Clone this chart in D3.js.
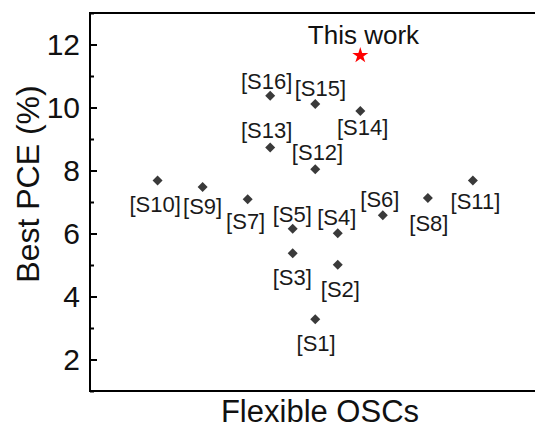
<!DOCTYPE html>
<html><head><meta charset="utf-8">
<script src="https://cdn.jsdelivr.net/npm/d3@7"></script>
<style>body{margin:0;background:#fff}svg{display:block}text{font-family:Arial,"Liberation Sans",sans-serif}</style>
</head><body>
<svg id="c" width="535" height="427"></svg>
<script>
const labels = ["[S1]","[S2]","[S3]","[S4]","[S5]","[S6]","[S7]","[S8]","[S9]","[S10]","[S11]","[S12]","[S13]","[S14]","[S15]","[S16]"];
const xPos = [8, 9, 7, 9, 7, 11, 5, 13, 3, 1, 15, 8, 6, 10, 8, 6];
const pce = [3.28, 5.01, 5.37, 6.01, 6.15, 6.58, 7.09, 7.13, 7.48, 7.68, 7.68, 8.04, 8.73, 9.89, 10.11, 10.37];
const thisWorkLabel = "This work";
const thisWorkX = 10;
const thisWorkPCE = 11.65;
const yTicks = [2, 4, 6, 8, 10, 12];
const yMinorTicks = [1, 3, 5, 7, 9, 11, 13];
const xTitle = "Flexible OSCs";
const yTitle = "Best PCE (%)";
// label layout offsets (px) relative to each marker
const labelOffsets = [[0.9,31.8],[2.6,32.1],[-0.5,31.4],[-1,-8.2],[-0.5,-7.2],[-2.9,-7.9],[-2,30.1],[1,33.4],[0,27.3],[-2.4,31.4],[2.5,28],[2.3,-9.2],[-3.6,-9.6],[2.4,24.5],[5.1,-7.8],[-3.6,-6.4]];

const svg = d3.select("#c");
const x = d3.scaleLinear().domain([-2, 19]).range([90, 563]);
const y = d3.scaleLinear().domain([1, 13]).range([391, 13]);

// frame
svg.append("rect").attr("x", x(-2)).attr("y", y(13)).attr("width", x(19)-x(-2)).attr("height", y(1)-y(13))
  .attr("fill","none").attr("stroke","#000").attr("stroke-width",2);

// y axis major
const gy = svg.append("g").attr("transform", `translate(${x(-2)},0)`)
  .call(d3.axisLeft(y).tickValues(yTicks).tickSize(-7).tickPadding(10).tickFormat(d3.format("d")));
gy.select(".domain").remove();
gy.selectAll(".tick line").attr("stroke","#000").attr("stroke-width",2);
gy.selectAll(".tick text").attr("font-size",30).attr("fill","#111").attr("font-family","Arial, 'Liberation Sans', sans-serif");
const gym = svg.append("g").attr("transform", `translate(${x(-2)},0)`)
  .call(d3.axisLeft(y).tickValues(yMinorTicks).tickSize(-4).tickFormat(""));
gym.select(".domain").remove();
gym.selectAll(".tick line").attr("stroke","#000").attr("stroke-width",2);

// titles
svg.append("text").attr("x", 320).attr("y", 421.5).attr("text-anchor","middle")
  .attr("font-size",31).attr("fill","#111").text(xTitle);
svg.append("text").attr("transform","translate(38.5,184) rotate(-90)").attr("text-anchor","middle")
  .attr("font-size",32).attr("fill","#111").text(yTitle);

// markers
const pts = labels.map((l,i)=>({l, x:xPos[i], y:pce[i], o:labelOffsets[i]}));
const diamond = d3.symbol().type(d3.symbolSquare).size(50);
svg.append("g").selectAll("path").data(pts).join("path")
  .attr("d", diamond)
  .attr("transform", d=>`translate(${x(d.x)},${y(d.y)}) rotate(45)`)
  .attr("fill","#3a3a3a");
svg.append("g").selectAll("text").data(pts).join("text")
  .attr("x", d=>x(d.x)+d.o[0]).attr("y", d=>y(d.y)+d.o[1])
  .attr("text-anchor","middle").attr("font-size",22).attr("fill","#1a1a1a").text(d=>d.l);

// this work
svg.append("path").attr("d", d3.symbol().type(d3.symbolStar).size(80))
  .attr("transform", `translate(${x(thisWorkX)},${y(thisWorkPCE)})`).attr("fill","#ff0000");
svg.append("text").attr("x", x(thisWorkX)+3.2).attr("y", y(thisWorkPCE)-11.4)
  .attr("text-anchor","middle").attr("font-size",26).attr("fill","#111").text(thisWorkLabel);
</script>
</body></html>
